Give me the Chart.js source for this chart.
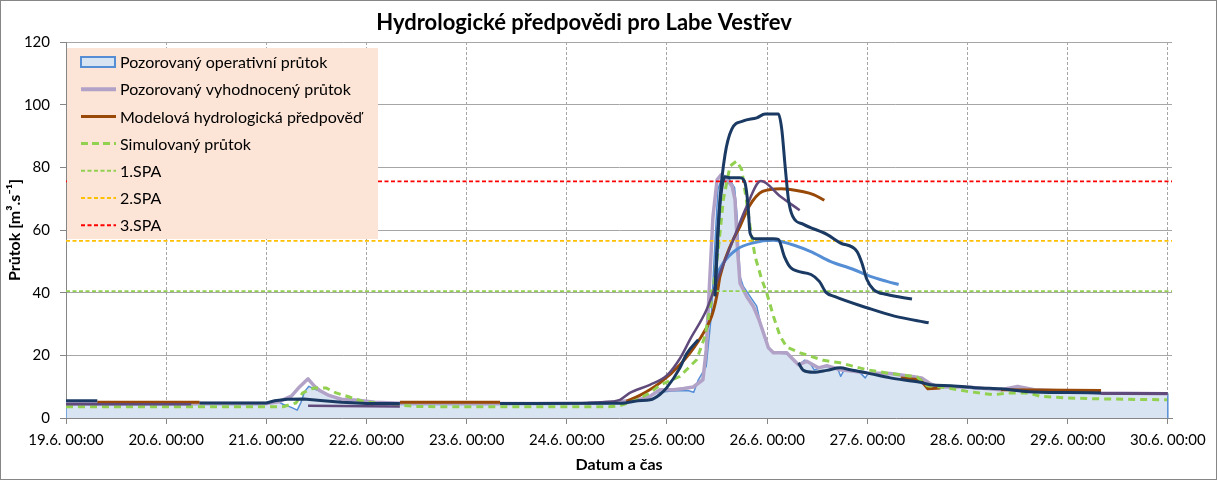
<!DOCTYPE html>
<html><head><meta charset="utf-8">
<script src="https://cdn.jsdelivr.net/npm/chart.js@4.4.1/dist/chart.umd.min.js"></script>
<style>html,body{margin:0;padding:0;background:#fff;}canvas{display:block;}</style>
</head><body>
<canvas id="c" width="1218" height="481"></canvas>
<script>
// ---- data (x = hours since 19.6. 00:00, y = m3/s) ----
const chartTitle = 'Hydrologické předpovědi pro Labe Vestřev';
const xTitle = 'Datum a čas';
const yTitle = 'Průtok [m³.s⁻¹]';
const tickLabels = ['19.6. 00:00','20.6. 00:00','21.6. 00:00','22.6. 00:00','23.6. 00:00','24.6. 00:00','25.6. 00:00','26.6. 00:00','27.6. 00:00','28.6. 00:00','29.6. 00:00','30.6. 00:00'];
const legendLabels = ['Pozorovaný operativní průtok','Pozorovaný vyhodnocený průtok','Modelová hydrologická předpověď','Simulovaný průtok','1.SPA','2.SPA','3.SPA'];

const spa1 = 40.5, spa2 = 56.5, spa3 = 75.5;

const opFlow = [[0,0],[0,4.3],[24,4.3],[46,4.3],[48.5,4.5],[50.3,5.6],[52,4.4],[54,3.4],[55.4,2.5],[56.3,5.0],[57.2,8.5],[58.2,10.1],[60,9.0],[62,8.0],[64,6.8],[66,5.6],[69,5.0],[72,4.6],[78,4.3],[100,4.3],[124,4.4],[130,4.6],[135,5.2],[139,6.5],[141,8.0],[145,8.6],[149,8.8],[150.4,8.2],[151.5,12.2],[153.4,16.5],[154.6,32.5],[155.4,53.8],[156.2,72.9],[157.4,77.7],[159,76.1],[160.2,73.5],[160.8,64.4],[161.5,45.2],[162.3,42.0],[163.9,38.8],[165.5,35.7],[166.4,30.3],[168.3,22.4],[169.5,20.8],[172.7,20.5],[174.5,18.0],[175.6,17.0],[177,18.5],[178.3,17.5],[179.3,15.3],[181,16.2],[183,16.5],[185,15.4],[185.6,13.3],[186.4,15.2],[190,14.8],[191.5,12.8],[192.3,14.4],[196,14.3],[200,13.8],[203,13.4],[205,12.8],[207,11.0],[209,9.9],[213,10.0],[218,9.3],[224,9.0],[227,9.6],[229,9.8],[232,9.0],[240,8.5],[248,8.0],[256,7.8],[264,7.7],[264,0]];

const evalFlow = [[0,4.6],[48,4.6],[51,5.2],[54,7.0],[56,10.0],[58,12.5],[59.5,10.2],[61,8.6],[63,7.2],[66,6.0],[70,5.7],[74,5.0],[80,4.7],[100,4.6],[124,4.7],[128,4.9],[133,5.3],[137,5.8],[139.9,6.9],[142.3,9.0],[145.5,9.0],[148,9.4],[150.3,9.9],[152.6,12.2],[153.4,21.8],[154.2,43.0],[155,64.0],[156,76.0],[157,77.7],[158.4,76.0],[159.6,74.0],[160.3,69.7],[160.9,53.8],[161.5,43.0],[163.1,38.8],[164.7,35.6],[166,31.5],[167.1,27.2],[168.3,22.4],[169.5,20.8],[172.7,20.8],[174,19.0],[175.5,17.0],[177.5,18.1],[180.3,16.0],[182.3,16.7],[185.5,15.4],[191.9,14.4],[197.5,14.2],[202.3,13.3],[205,12.8],[207,11.0],[209,9.9],[215,10.0],[224,9.0],[228,10.1],[232,9.0],[240,8.5],[248,8.0],[264,7.7]];

const simFlow = [[0,3.6],[52,3.6],[55.1,4.8],[56.7,8.0],[59.5,9.6],[62.3,9.6],[64.7,8.0],[67.9,6.7],[71.1,5.3],[75.1,4.6],[79.1,4.2],[83.9,3.7],[90,3.6],[130,3.6],[132.7,3.9],[136.7,5.8],[139.9,8.0],[142.3,10.5],[147.1,13.3],[151.1,18.6],[153.1,26.1],[154.7,37.8],[156.3,53.8],[157.5,69.7],[159.1,80.4],[160.7,82.0],[161.9,79.3],[163,69.7],[163.9,61.2],[165.1,51.6],[166.7,44.2],[167.9,39.9],[169.5,32.5],[171.1,26.1],[172.7,22.6],[175.9,20.8],[181.5,18.4],[185.5,17.6],[191.9,15.4],[197.5,14.2],[203.9,13.1],[206.3,10.3],[211.1,9.6],[215.9,8.5],[222.3,7.4],[225.5,8.0],[230.7,8.0],[233.5,6.9],[239.9,6.4],[247.9,6.1],[263.8,5.8]];

const brownSeg1 = [[7.5,5.0],[32,5.0]];
const brownSeg2 = [[80,5.0],[104,5.0]];
const brownFlood = [[134.3,5.3],[137.5,7.2],[142.3,11.2],[147.1,17.0],[151.5,24.5],[154.7,32.5],[155.9,38.8],[156.7,45.2],[159.5,55.9],[161.5,61.2],[163.7,67.6],[166.9,72.3],[171.3,73.2],[176.7,72.2],[179.1,71.3],[181.7,69.5]];
const brownSeg3 = [[200,12.8],[204.7,12.2],[206.5,9.3],[209.5,9.6]];
const brownSeg4 = [[224,9.0],[248,8.8]];

const navyBase1 = [[0,5.5],[7.5,5.5]];
const navyBase2 = [[32,4.8],[48,4.8],[50,5.5],[53,6.0],[57,6.1],[61,5.6],[66,5.0],[72,4.6],[80,4.6]];
const navyBase3 = [[104,4.6],[128,4.7],[133,4.7],[137,5.5],[140,5.8],[142.3,7.5],[143.9,9.6],[147.1,16.0],[148.7,20.5],[151.5,25.0]];
const navyFc2 = [[155.5,38.8],[155.9,50],[156.7,69.7],[157.9,84.0],[159.5,92.1],[162.3,94.8],[165.5,95.8],[167.5,97.0],[170.7,97.0],[171.5,92.1],[172.3,80.4],[173.1,69.7],[174.1,64.4],[176.7,61.8],[182.3,58.6],[185.5,55.9],[189.5,53.2],[190.7,49.5],[191.9,44.2],[193.5,41.0],[196.7,39.4],[202.7,38.0]];
const navyFc3 = [[155.5,41],[156.2,60],[157,72],[157.9,77],[159.1,76.7],[161.5,76.7],[162.7,75],[163.4,68],[163.9,59],[165.1,57.2],[169.5,57.2],[170.7,57.0],[172.1,51.6],[173.7,47.9],[178.5,45.8],[180.5,43.6],[182.1,40.1],[184.1,38.8],[192.1,35.1],[198.5,32.5],[206.7,30.4]];
const navyFc4 = [[175.5,17.6],[176.7,15.2],[179.1,14.6],[182.3,15.2],[185.5,16.0],[187.9,15.4],[191.9,14.4],[197.5,12.8],[204.7,11.4],[207.1,10.6],[212,10.3],[219.1,9.6],[224,9.3],[230.7,8.4],[240,8.1],[248,8.0]];

const purpleSeg1 = [[0,4.4],[30,4.4]];
const purpleSeg2 = [[58,3.9],[80,3.7]];
const purpleFlood = [[125,4.8],[128,5.0],[132.7,5.8],[135.1,8.0],[139.9,10.6],[143.9,13.5],[147.1,19.0],[149.5,25.0],[153.5,34.6],[156.7,46.3],[159.9,57.0],[163.1,67.6],[166.5,75.6],[171.1,70.8],[175.8,66.3]];
const purpleSeg3 = [[248,7.8],[264,7.8]];

const lightFc = [[155.6,43.0],[155.9,45.2],[157.5,49.5],[160.7,53.8],[164.7,55.9],[169.5,56.7],[171.1,56.4],[178.3,53.2],[183.1,50.0],[188.7,47.4],[192.7,45.2],[196.7,43.6],[199.5,42.6]];

// ---- styles ----
const C = {op:'#558ed5', opFill:'#d9e4f2', eval:'#b3a2c7', brown:'#984807', sim:'#92d050', navy:'#1b3a63', purple:'#604a7b', light:'#558ed5', spa1:'#92d050', spa2:'#ffc000', spa3:'#ff0000', grid:'#a6a6a6', axis:'#868686'};
const X_MAX = 265;

const pts = a => a.map(p => ({x:p[0], y:p[1]}));
const line = (data, color, width, order, extra) => Object.assign({data: pts(data), borderColor: color, borderWidth: width, order, fill:false, pointRadius:0, borderCapStyle:'butt', borderJoinStyle:'round'}, extra||{});
const hline = v => [[0, v], [X_MAX, v]];
const smooth = {cubicInterpolationMode:'monotone'};

const datasets = [
  line(opFlow, C.op, 1.5, 100, {fill:'origin', backgroundColor: C.opFill}),
  line(evalFlow, C.eval, 3.5, 90),
  line(brownSeg1, C.brown, 3, 80), line(brownSeg2, C.brown, 3, 80), line(brownFlood, C.brown, 3, 80, smooth),
  line(brownSeg3, C.brown, 3, 80), line(brownSeg4, C.brown, 3, 80),
  line(simFlow, C.sim, 3, 70, {borderDash:[7,5]}),
  line(hline(spa1), C.spa1, 1.75, 60, {borderDash:[4,2.5]}),
  line(hline(spa2), C.spa2, 1.75, 60, {borderDash:[4,2.5]}),
  line(hline(spa3), C.spa3, 1.75, 60, {borderDash:[4,2.5]}),
  line(lightFc, C.light, 3, 50, smooth),
  line(purpleSeg1, C.purple, 2.5, 45), line(purpleSeg2, C.purple, 2.5, 45),
  line(purpleFlood, C.purple, 2.5, 45, smooth), line(purpleSeg3, C.purple, 3, 45),
  line(navyBase1, C.navy, 3, 40), line(navyBase2, C.navy, 3, 40), line(navyBase3, C.navy, 3, 40, smooth),
  line(navyFc2, C.navy, 3, 40, smooth), line(navyFc3, C.navy, 3, 40, smooth), line(navyFc4, C.navy, 3, 40, smooth)
];

const overlay = {
  id: 'overlay',
  afterDraw(chart) {
    const ctx = chart.ctx, a = chart.chartArea;
    ctx.save();
    // legend box
    ctx.fillStyle = '#fce4d6';
    ctx.fillRect(a.left + 1, 48, 311, 191);
    ctx.font = '16px Lato';
    ctx.textBaseline = 'middle';
    ctx.textAlign = 'left';
    const sw = [
      {t:'rect'}, {c:C.eval, w:4}, {c:C.brown, w:3}, {c:C.sim, w:3, d:[7,4]},
      {c:C.spa1, w:2, d:[4,2.5]}, {c:C.spa2, w:2, d:[4,2.5]}, {c:C.spa3, w:2, d:[4,2.5]}
    ];
    legendLabels.forEach((lab, i) => {
      const y = 62 + i * 27.2;
      const s = sw[i];
      if (s.t === 'rect') {
        ctx.fillStyle = C.opFill; ctx.fillRect(81, y - 5, 34, 10);
        ctx.strokeStyle = C.op; ctx.lineWidth = 2; ctx.setLineDash([]);
        ctx.strokeRect(81, y - 5, 34, 10);
      } else {
        ctx.strokeStyle = s.c; ctx.lineWidth = s.w; ctx.setLineDash(s.d || []);
        ctx.beginPath(); ctx.moveTo(81, y); ctx.lineTo(116, y); ctx.stroke();
      }
      ctx.setLineDash([]);
      ctx.fillStyle = '#000';
      ctx.fillText(lab, 120, y + 1);
    });
    // title
    ctx.font = 'bold 22px Lato'; ctx.textAlign = 'center';
    ctx.fillText(chartTitle, 584, 23);
    // axis titles
    ctx.font = 'bold 16px Lato';
    ctx.fillText(xTitle, (a.left + a.right) / 2, 465);
    ctx.translate(15, 230); ctx.rotate(-Math.PI / 2);
    ctx.fillText(yTitle, 0, 0);
    ctx.restore();
    // outer border
    ctx.save();
    ctx.strokeStyle = C.axis; ctx.lineWidth = 1;
    ctx.strokeRect(0.5, 0.5, 1216, 479);
    ctx.restore();
  }
};

new Chart(document.getElementById('c'), {
  type: 'line',
  data: { datasets },
  options: {
    responsive: false, animation: false, devicePixelRatio: 1,
    layout: { padding: { left: 0, top: 42, right: 46, bottom: 0 } },
    plugins: { legend: { display: false }, title: { display: false }, tooltip: { enabled: false } },
    elements: { point: { radius: 0 }, line: { tension: 0 } },
    scales: {
      x: {
        type: 'linear', min: 0, max: X_MAX,
        afterBuildTicks: s => { s.ticks = tickLabels.map((t, i) => ({ value: i * 24 })); },
        afterFit: s => { s.height = 63; },
        ticks: { callback: (v, i) => tickLabels[i], font: { family: 'Lato', size: 15 }, color: '#000', padding: 7, maxRotation: 0, autoSkip: false },
        grid: { color: c => c.index === 0 ? 'rgba(0,0,0,0)' : C.grid, tickColor: C.axis, tickLength: 6, tickBorderDash: [] },
        border: { color: C.axis, width: 1, dash: [3, 2] }
      },
      y: {
        min: 0, max: 120,
        afterFit: s => { s.width = 66; },
        ticks: { stepSize: 20, font: { family: 'Lato', size: 15 }, color: '#000', padding: 10 },
        grid: { color: c => c.index === 0 ? 'rgba(0,0,0,0)' : C.grid, tickColor: C.axis, tickLength: 6 },
        border: { color: C.axis, width: 1 }
      }
    }
  },
  plugins: [overlay]
});
</script>
</body></html>
